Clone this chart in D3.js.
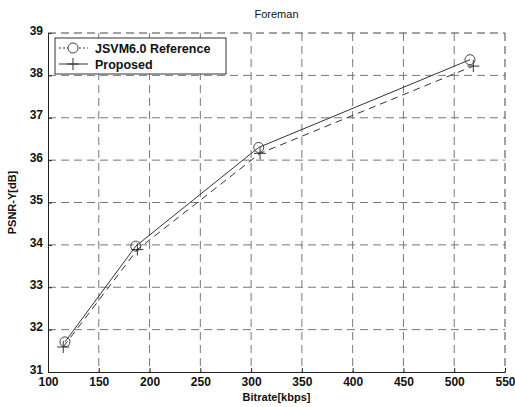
<!DOCTYPE html>
<html lang="en">
<head>
  <meta charset="UTF-8">
  <title>Foreman</title>
  <script src="https://d3js.org/d3.v7.min.js"></script>
  <style>
    body { margin: 0; background: #fff; }
    svg text { font-family: "Liberation Sans", Arial, sans-serif; fill: #111; }
  </style>
</head>
<body>
<div id="chart-container"></div>
<script>
  // Data
  const refBitrate = [116.7, 186.4, 307.5, 515.5];
  const refPsnr = [31.71, 33.97, 36.30, 38.37];
  const propBitrate = [115.0, 188.0, 308.8, 518.8];
  const propPsnr = [31.59, 33.89, 36.16, 38.22];
  const xTicks = [100, 150, 200, 250, 300, 350, 400, 450, 500, 550];
  const yTicks = [31, 32, 33, 34, 35, 36, 37, 38, 39];
  const seriesNames = ['JSVM6.0 Reference', 'Proposed'];

  const W = 515, H = 407;
  const margin = { top: 33, right: 10, bottom: 35, left: 48 };
  const width = W - margin.left - margin.right;
  const height = H - margin.top - margin.bottom;

  const svg = d3.select('#chart-container').append('svg')
    .attr('width', W).attr('height', H);
  const g = svg.append('g')
    .attr('transform', `translate(${margin.left},${margin.top})`);

  const x = d3.scaleLinear().domain([100, 550]).range([0, width]);
  const y = d3.scaleLinear().domain([31, 39]).range([height, 0]);

  // grid
  g.append('g').selectAll('line').data(xTicks.slice(1, -1)).enter().append('line')
    .attr('x1', d => x(d)).attr('x2', d => x(d)).attr('y1', 0).attr('y2', height)
    .attr('stroke', '#777').attr('stroke-width', 1).attr('stroke-dasharray', '8,5');
  g.append('g').selectAll('line').data(yTicks.slice(1, -1)).enter().append('line')
    .attr('y1', d => y(d)).attr('y2', d => y(d)).attr('x1', 0).attr('x2', width)
    .attr('stroke', '#777').attr('stroke-width', 1).attr('stroke-dasharray', '8,5');

  // axes
  const xAxis = g.append('g').attr('transform', `translate(0,${height})`)
    .call(d3.axisBottom(x).tickValues(xTicks).tickSize(-4).tickSizeOuter(0).tickPadding(5));
  const yAxis = g.append('g')
    .call(d3.axisLeft(y).tickValues(yTicks).tickSize(-4).tickSizeOuter(0).tickPadding(5));
  [xAxis, yAxis].forEach(a => {
    a.selectAll('text').style('font-size', '12px').style('font-weight', 'bold')
      .style('font-family', '"Liberation Sans", Arial, sans-serif').attr('fill', '#111');
    a.selectAll('line').attr('stroke', '#222');
    a.select('.domain').attr('stroke', '#222');
  });
  yAxis.selectAll('text').attr('dy', '0.1em');

  // box top / right
  g.append('line').attr('x1', 0).attr('x2', width).attr('y1', 0).attr('y2', 0)
    .attr('stroke', '#444').attr('stroke-dasharray', '8,5');
  g.append('line').attr('x1', width).attr('x2', width).attr('y1', 0).attr('y2', height)
    .attr('stroke', '#444').attr('stroke-dasharray', '8,5');

  const refData = refBitrate.map((b, i) => ({ b, p: refPsnr[i] }));
  const propData = propBitrate.map((b, i) => ({ b, p: propPsnr[i] }));
  const line = d3.line().x(d => x(d.b)).y(d => y(d.p));

  g.append('path').datum(refData).attr('d', line)
    .attr('fill', 'none').attr('stroke', '#333').attr('stroke-width', 1);
  g.append('path').datum(propData).attr('d', line)
    .attr('fill', 'none').attr('stroke', '#333').attr('stroke-width', 1)
    .attr('stroke-dasharray', '7,5');

  g.selectAll('circle.ref').data(refData).enter().append('circle')
    .attr('class', 'ref')
    .attr('cx', d => x(d.b)).attr('cy', d => y(d.p)).attr('r', 5)
    .attr('fill', 'none').attr('stroke', '#444').attr('stroke-width', 1);
  const plus = g.selectAll('g.prop').data(propData).enter().append('g')
    .attr('class', 'prop')
    .attr('transform', d => `translate(${x(d.b)},${y(d.p)})`);
  plus.append('line').attr('x1', -6).attr('x2', 6).attr('stroke', '#333');
  plus.append('line').attr('y1', -6).attr('y2', 6).attr('stroke', '#333');

  // legend
  const lg = svg.append('g').attr('transform', 'translate(55,38)');
  lg.append('rect').attr('width', 171).attr('height', 36)
    .attr('fill', '#fff').attr('stroke', '#333').attr('stroke-width', 1);
  seriesNames.forEach((name, i) => {
    const yy = 10 + i * 16;
    const row = lg.append('g').attr('transform', `translate(0,${yy})`);
    row.append('line').attr('x1', 4).attr('x2', 33).attr('stroke', '#333')
      .attr('stroke-dasharray', i === 0 ? '2,2' : null);
    if (i === 0) {
      row.append('circle').attr('cx', 18).attr('r', 5)
        .attr('fill', '#fff').attr('stroke', '#444');
    } else {
      row.append('line').attr('x1', 12).attr('x2', 24).attr('stroke', '#333');
      row.append('line').attr('x1', 18).attr('x2', 18).attr('y1', -6).attr('y2', 6).attr('stroke', '#333');
    }
    row.append('text').attr('x', 40).attr('y', 4.5)
      .style('font-size', '12.5px').style('font-weight', 'bold').text(name);
  });

  // title and labels
  svg.append('text').attr('x', margin.left + width / 2).attr('y', 18)
    .attr('text-anchor', 'middle').style('font-size', '11px').text('Foreman');
  svg.append('text').attr('x', margin.left + width / 2).attr('y', 401)
    .attr('text-anchor', 'middle').style('font-size', '11px').style('font-weight', 'bold')
    .text('Bitrate[kbps]');
  svg.append('text')
    .attr('transform', `translate(16,${margin.top + height / 2}) rotate(-90)`)
    .attr('text-anchor', 'middle').style('font-size', '11px').style('font-weight', 'bold')
    .text('PSNR-Y[dB]');
</script>
</body>
</html>
